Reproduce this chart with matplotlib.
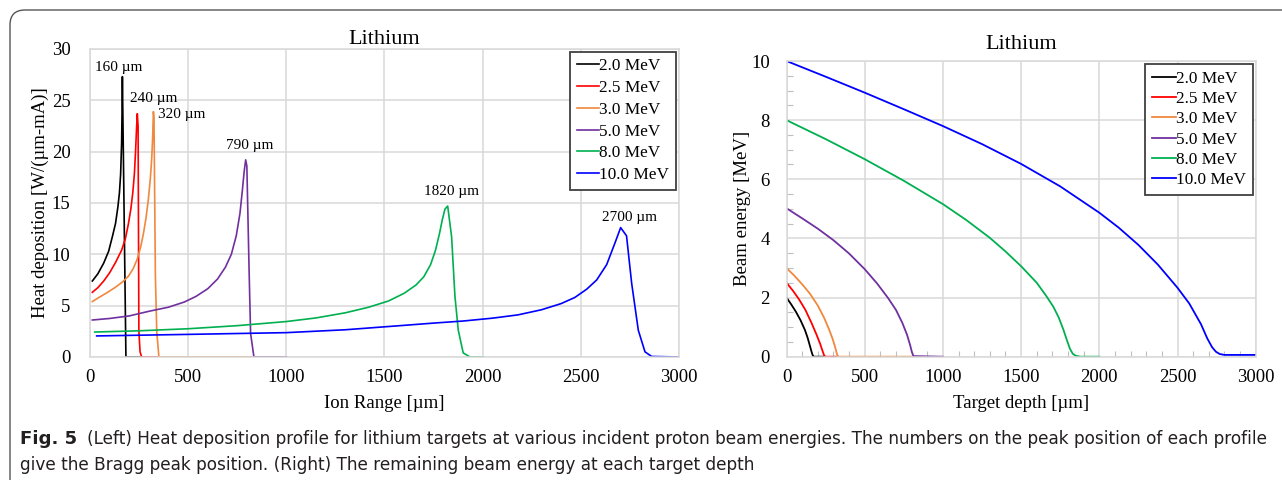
import matplotlib
matplotlib.use('Agg')
import matplotlib.pyplot as plt
from matplotlib.patches import FancyBboxPatch

plt.rcParams['font.family'] = ['Liberation Serif', 'DejaVu Serif']

labels = ['2.0 MeV', '2.5 MeV', '3.0 MeV', '5.0 MeV', '8.0 MeV', '10.0 MeV']
colors = ['#000000', '#ff0000', '#f0883e', '#7030a0', '#00b050', '#0000ff']

# left: heat deposition vs ion range
heat_x = [
    [12, 40, 70, 95, 115, 130, 142, 150, 156, 161, 163, 165, 183, 270],
    [12, 40, 70, 100, 130, 161, 180, 195, 208, 218, 226, 232, 237, 241, 245, 249, 255, 263, 360],
    [12, 50, 90, 130, 165, 195, 220, 240, 258, 272, 285, 297, 307, 314, 319, 323, 326, 333,
     340, 351, 1000],
    [12, 100, 200, 300, 400, 480, 540, 600, 650, 690, 720, 745, 764, 776, 785, 793, 799,
     810, 818, 835, 1000],
    [24, 250, 500, 750, 1000, 1150, 1300, 1420, 1520, 1600, 1660, 1700, 1735, 1760, 1780,
     1795, 1808, 1822, 1842, 1859, 1876, 1901, 1935, 2000],
    [34, 500, 1000, 1300, 1579, 1750, 1900, 2050, 2180, 2300, 2400, 2470, 2530, 2581, 2632,
     2674, 2703, 2733, 2759, 2793, 2827, 2861, 3000],
]
heat_y = [
    [7.4, 8.1, 9.15, 10.3, 11.8, 13.0, 14.6, 16.0, 17.8, 20.8, 23.5, 27.3, 0, 0],
    [6.3, 6.75, 7.4, 8.2, 9.2, 10.4, 11.5, 12.9, 14.4, 16.0, 17.8, 20.0, 22.2, 23.7, 22.5,
     2.5, 0.5, 0, 0],
    [5.4, 5.85, 6.3, 6.8, 7.3, 7.85, 8.6, 9.5, 10.7, 12.0, 13.5, 15.3, 17.3, 19.2, 21.3,
     23.9, 23.3, 8.0, 2.5, 0, 0],
    [3.6, 3.75, 4.0, 4.45, 4.85, 5.35, 5.9, 6.65, 7.6, 8.75, 10.0, 11.8, 14.0, 16.2, 18.0,
     19.2, 18.6, 8.8, 2.3, 0, 0],
    [2.43, 2.55, 2.75, 3.05, 3.45, 3.8, 4.3, 4.85, 5.45, 6.2, 7.0, 7.8, 9.0, 10.4, 12.0,
     13.4, 14.4, 14.7, 11.7, 5.9, 2.6, 0.4, 0, 0],
    [2.05, 2.2, 2.37, 2.65, 3.05, 3.3, 3.5, 3.78, 4.1, 4.6, 5.2, 5.8, 6.6, 7.5, 9.0,
     11.1, 12.6, 11.8, 7.2, 2.6, 0.5, 0.05, 0.0],
]
peak_text = ['160 µm', '240 µm', '320 µm', '790 µm', '1820 µm', '2700 µm']
peak_pos = [(144, 28.2), (323, 25.2), (465, 23.6), (815, 20.55), (1840, 16.1), (2750, 13.6)]

# right: remaining beam energy vs depth
depth_x = [
    [0, 30, 60, 90, 118, 135, 150, 160, 168, 175, 240],
    [0, 40, 80, 120, 160, 190, 214, 230, 240, 248, 330],
    [0, 50, 100, 150, 200, 240, 270, 295, 312, 322, 330, 800],
    [0, 100, 200, 300, 400, 500, 580, 650, 700, 740, 770, 790, 802, 812, 1000],
    [0, 250, 500, 750, 1000, 1150, 1300, 1400, 1500, 1600, 1660, 1706, 1740, 1770, 1792,
     1812, 1830, 1850, 1880, 2000],
    [0, 250, 500, 750, 1000, 1250, 1500, 1750, 2000, 2125, 2250, 2375, 2500, 2575, 2650,
     2690, 2720, 2745, 2770, 2800, 3000],
]
energy_y = [
    [2.0, 1.77, 1.52, 1.23, 0.9, 0.64, 0.36, 0.17, 0.04, 0.0, 0.0],
    [2.5, 2.24, 1.94, 1.59, 1.14, 0.77, 0.45, 0.2, 0.05, 0.0, 0.0],
    [3.0, 2.74, 2.45, 2.13, 1.73, 1.32, 0.95, 0.6, 0.3, 0.1, 0.0, 0.0],
    [5.02, 4.68, 4.33, 3.94, 3.49, 2.96, 2.47, 1.98, 1.58, 1.15, 0.75, 0.4, 0.15, 0.02, 0.0],
    [8.0, 7.36, 6.68, 5.95, 5.16, 4.62, 4.02, 3.56, 3.06, 2.5, 2.06, 1.69, 1.33, 0.92, 0.57,
     0.27, 0.1, 0.03, 0.0, 0.0],
    [10.0, 9.47, 8.93, 8.37, 7.8, 7.19, 6.52, 5.76, 4.87, 4.36, 3.78, 3.11, 2.33, 1.8, 1.1,
     0.62, 0.33, 0.17, 0.09, 0.06, 0.06],
]

fig = plt.figure(figsize=(12.82, 4.8), dpi=100)

# rounded frame of the figure panel
frame = FancyBboxPatch((0.1, -1.0), 14.0, 5.7, boxstyle='round,pad=0,rounding_size=0.15',
                       transform=fig.dpi_scale_trans, fc='none', ec='#555555', lw=1.0,
                       clip_on=False)
fig.patches.append(frame)

ax1 = fig.add_axes([0.0702, 0.2563, 0.4594, 0.6417])
ax2 = fig.add_axes([0.6135, 0.2569, 0.3660, 0.6160])

for ax in (ax1, ax2):
    ax.grid(True, color='#d9d9d9', lw=1.1)
    ax.set_axisbelow(True)
    for s in ax.spines.values():
        s.set_color('#d9d9d9')
        s.set_linewidth(1.1)
    ax.tick_params(which='major', length=0, labelsize=13.5)
    ax.set_xlim(0, 3000)
    ax.set_xticks([0, 500, 1000, 1500, 2000, 2500, 3000])

for i in range(6):
    ax1.plot(heat_x[i], heat_y[i], color=colors[i], lw=1.2, label=labels[i])
    ax1.text(peak_pos[i][0], peak_pos[i][1], peak_text[i], fontsize=11, ha='center', va='center')
ax1.set_ylim(0, 30)
ax1.set_yticks([0, 5, 10, 15, 20, 25, 30])
ax1.tick_params(axis='y', pad=14)
ax1.tick_params(axis='x', pad=9)
ax1.set_title('Lithium', fontsize=16, pad=3)
ax1.set_xlabel('Ion Range [µm]', fontsize=13.5, labelpad=6)
ax1.set_ylabel('Heat deposition [W/(µm-mA)]', fontsize=13.5, labelpad=2)
leg1 = ax1.legend(loc='upper right', fontsize=12.4, handlelength=1.3, handletextpad=0.0,
                  labelspacing=0.33, borderpad=0.4, borderaxespad=0.15, fancybox=False,
                  framealpha=1)
leg1.get_frame().set_edgecolor('#404040')
leg1.get_frame().set_linewidth(1.3)

for i in range(6):
    ax2.plot(depth_x[i], energy_y[i], color=colors[i], lw=1.3, label=labels[i])
ax2.set_ylim(0, 10)
ax2.set_yticks([0, 2, 4, 6, 8, 10])
ax2.set_xticks(range(0, 3001, 100), minor=True)
ax2.set_yticks([v * 0.5 for v in range(21)], minor=True)
ax2.tick_params(which='minor', direction='in', length=4, color='#bfbfbf', width=0.8)
ax2.tick_params(axis='y', which='major', pad=12)
ax2.tick_params(axis='x', which='major', pad=9)
ax2.set_title('Lithium', fontsize=16, pad=9)
ax2.set_xlabel('Target depth [µm]', fontsize=13.5, labelpad=6)
ax2.set_ylabel('Beam energy [MeV]', fontsize=13.5, labelpad=0)
leg2 = ax2.legend(loc='upper right', fontsize=12.4, handlelength=1.4, handletextpad=0.0,
                  labelspacing=0.25, borderpad=0.4, borderaxespad=0.15, fancybox=False,
                  framealpha=1)
leg2.get_frame().set_edgecolor('#404040')
leg2.get_frame().set_linewidth(1.3)

# caption
cap_font = ['Liberation Sans Narrow', 'DejaVu Sans']
cap1 = ('(Left) Heat deposition profile for lithium targets at various incident proton beam '
        'energies. The numbers on the peak position of each profile')
cap2 = 'give the Bragg peak position. (Right) The remaining beam energy at each target depth'
fs = 12
tb = fig.text(20 / 1282, 1 - 444 / 480, 'Fig. 5', fontsize=fs * 1.08, fontweight='bold',
              family=cap_font, color='#231f20', va='baseline')
t1 = fig.text(0, 0, cap1, fontsize=fs, family=cap_font, color='#231f20', va='baseline')
t2 = fig.text(20 / 1282, 1 - 470 / 480, cap2, fontsize=fs, family=cap_font,
              color='#231f20', va='baseline')
fig.canvas.draw()
r = fig.canvas.get_renderer()
wb = tb.get_window_extent(r).width
w1 = t1.get_window_extent(r).width
scale = (1263 - 20) / (wb + w1 + 10)
for t in (tb, t1, t2):
    t.set_fontsize(t.get_fontsize() * scale)
fig.canvas.draw()
wb = tb.get_window_extent(r).width
t1.set_position(((20 + wb + 10) / 1282, 1 - 444 / 480))

fig.savefig('out.png', dpi=100)
